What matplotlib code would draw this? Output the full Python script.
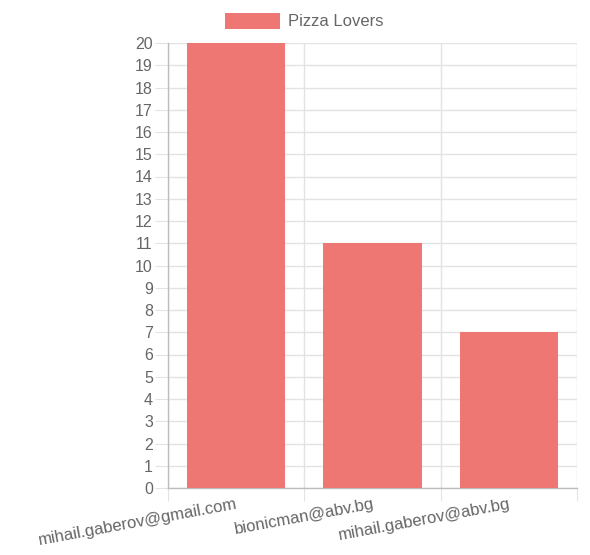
import matplotlib
matplotlib.use("Agg")
import matplotlib.pyplot as plt
from matplotlib.patches import Rectangle

categories = ["mihail.gaberov@gmail.com", "bionicman@abv.bg", "mihail.gaberov@abv.bg"]
values = [20, 11, 7]
series_name = "Pizza Lovers"
y_ticks = list(range(0, 21))

plt.rcParams['font.family'] = ['Liberation Sans', 'DejaVu Sans']
text_col = "#666666"
bar_col = "#ee7774"
grid_col = "#e3e3e3"
axis_col = "#bdbdbd"

fig = plt.figure(figsize=(5.90, 5.55), dpi=100)
ax = fig.add_axes([168/590, (555-488)/555, (577-168)/590, (488-43)/555])

x = list(range(len(categories)))
ax.bar(x, values, width=0.72, color=bar_col, zorder=3)

ax.set_xlim(-0.5, len(categories) - 0.5)
ax.set_ylim(0, 20)

ax.set_yticks(y_ticks)
ax.set_yticklabels([str(v) for v in y_ticks])
ax.tick_params(axis='y', length=9.4, color=grid_col, pad=1.5, labelsize=11.5, labelcolor=text_col)

bounds = [i - 0.5 for i in range(len(categories) + 1)]
ax.set_xticks(bounds)
ax.set_xticklabels([""] * len(bounds))
ax.set_xticks(x, minor=True)
ax.set_xticklabels(categories, minor=True, rotation=10.5, ha='right', rotation_mode='anchor')
ax.tick_params(axis='x', which='major', length=9.4, color=grid_col)
ax.tick_params(axis='x', which='minor', length=0, pad=6, labelsize=12, labelcolor=text_col)

ax.grid(True, which='major', color=grid_col, linewidth=1, zorder=0)
ax.set_axisbelow(True)
for s in ['top', 'right']:
    ax.spines[s].set_visible(False)
for s in ['left', 'bottom']:
    ax.spines[s].set_color(axis_col)
    ax.spines[s].set_linewidth(1)

# legend
fig.add_artist(Rectangle((225/590, 1 - 29/555), 55/590, 16/555, transform=fig.transFigure,
                         facecolor=bar_col, edgecolor='none'))
fig.text(288/590, 1 - 21/555, series_name, ha='left', va='center', fontsize=12, color=text_col)

fig.savefig("out.png", dpi=100)
